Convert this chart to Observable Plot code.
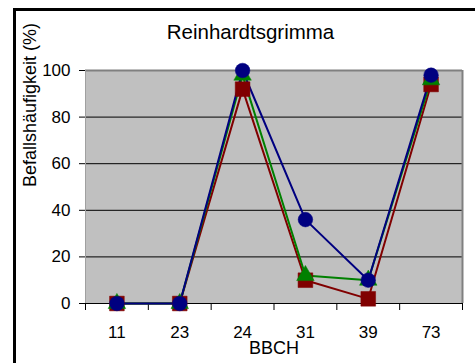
<!DOCTYPE html>
<html>
<head>
<meta charset="utf-8">
<script src="https://cdn.jsdelivr.net/npm/d3@7"></script>
<script src="https://cdn.jsdelivr.net/npm/@observablehq/plot@0.6"></script>
<style>
  html, body { margin: 0; padding: 0; background: #fff; }
  #wrap { position: relative; width: 475px; height: 363px; overflow: hidden; }
  #border { position: absolute; left: 13px; top: 8px; width: 480px; height: 400px;
            border-left: 3px solid #000; border-top: 3px solid #000; box-sizing: border-box; pointer-events: none; }
</style>
</head>
<body>
<div id="wrap"><div id="border"></div></div>
<script>
const title = "Reinhardtsgrimma";
const xTitle = "BBCH";
const yTitle = "Befallshäufigkeit (%)";
const bbch = ["11", "23", "24", "31", "39", "73"];
const yTicks = [0, 20, 40, 60, 80, 100];
const redValues = [0, 0, 92, 10, 2, 94];      // squares
const greenValues = [0, 0, 98, 12, 10, 96];   // triangles
const blueValues = [0, 0, 100, 36, 10, 98];   // circles

const series = [
  {name: "red", values: redValues, color: "#800000", symbol: "square", r: 8.3},
  {name: "green", values: greenValues, color: "#008000", symbol: "triangle", r: 6.5},
  {name: "blue", values: blueValues, color: "#000080", symbol: "circle", r: 7.3}
];
const rows = series.flatMap(s => s.values.map((v, i) => ({series: s.name, i: i + 0.5, v, color: s.color, symbol: s.symbol, r: s.r})));

const font = "Arial, 'Liberation Sans', sans-serif";
const chart = Plot.plot({
  width: 475,
  height: 363,
  marginLeft: 85,
  marginRight: 13,
  marginTop: 70,
  marginBottom: 60,
  style: {fontFamily: font, fontSize: "17px", background: "transparent", color: "#000"},
  x: {domain: [0, 6], axis: null, label: null},
  y: {domain: [0, 100], axis: null, label: null},
  marks: [
    Plot.frame({fill: "#c0c0c0", stroke: null}),
    Plot.gridY([20, 40, 60, 80], {stroke: "#000", strokeOpacity: 1, strokeWidth: 1}),
    Plot.ruleY([100], {stroke: "#808080", strokeWidth: 2}),
    Plot.ruleX([6], {stroke: "#808080", strokeWidth: 2}),
    Plot.ruleX([0], {stroke: "#a0a0a0", strokeWidth: 1}),
    Plot.ruleY([0], {stroke: "#000", strokeWidth: 1.2}),
    Plot.axisY(yTicks, {tickSize: 6, tickPadding: 9, stroke: "#000", fontSize: 17, label: null}),
    Plot.axisX(d3.range(7), {tickSize: 7, tickFormat: () => "", stroke: "#000", label: null}),
    Plot.axisX(d3.range(6).map(i => i + 0.5), {tickSize: 0, tickPadding: 22, tickFormat: d => bbch[Math.floor(d)], fontSize: 17, label: null}),
    ...series.map(s => Plot.line(rows.filter(d => d.series === s.name), {x: "i", y: "v", stroke: s.color, strokeWidth: 2})),
    ...series.map(s => Plot.dot(rows.filter(d => d.series === s.name), {x: "i", y: "v", fill: s.color, stroke: s.color, strokeWidth: 0.5, symbol: s.symbol, r: s.r})),
    Plot.text([title], {frameAnchor: "top-left", dx: 165, dy: -38, text: d => d, textAnchor: "middle", lineAnchor: "middle", fontSize: 20.5}),
    Plot.text([xTitle], {frameAnchor: "bottom", dy: 45, text: d => d, lineAnchor: "middle", fontSize: 18}),
    Plot.text([yTitle], {frameAnchor: "left", dx: -55, text: d => d, rotate: -90, lineAnchor: "middle", fontSize: 18})
  ]
});
document.getElementById("wrap").prepend(chart);
</script>
</body>
</html>
